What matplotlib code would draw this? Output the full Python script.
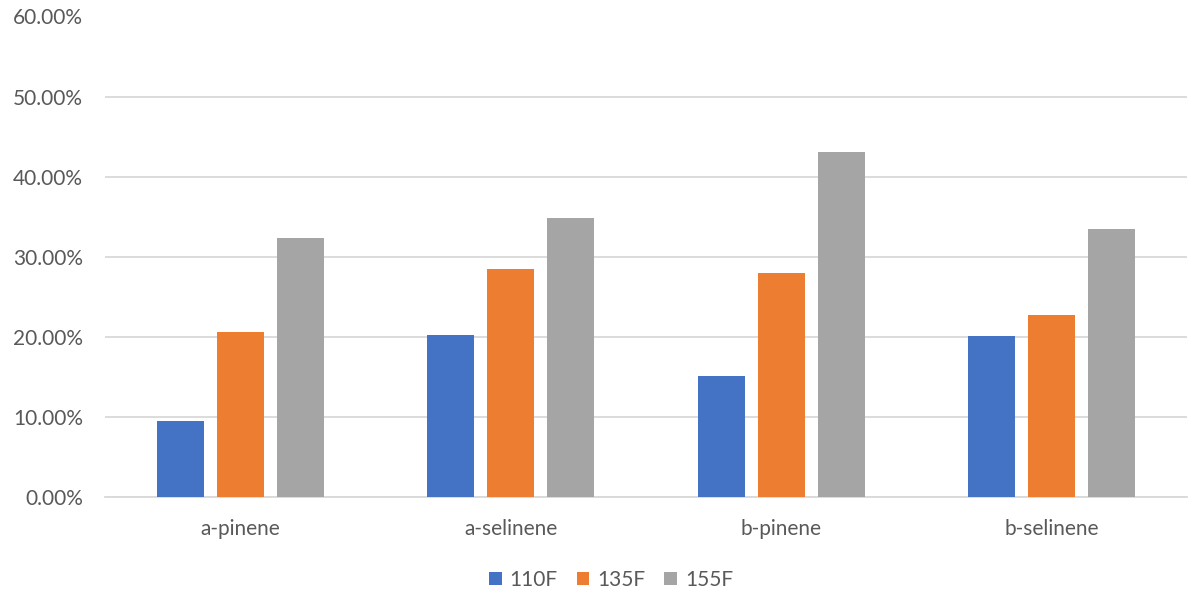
import matplotlib
matplotlib.use("Agg")
import matplotlib.pyplot as plt
import numpy as np
from matplotlib.ticker import FuncFormatter, MultipleLocator

plt.rcParams['font.family'] = ['Lato', 'DejaVu Sans']

categories = ["a-pinene", "a-selinene", "b-pinene", "b-selinene"]
series_names = ["110F", "135F", "155F"]
values_110f = [0.095, 0.202, 0.151, 0.201]
values_135f = [0.206, 0.285, 0.280, 0.227]
values_155f = [0.324, 0.348, 0.431, 0.335]
colors = ["#4472C4", "#ED7D31", "#A5A5A5"]

fig = plt.figure(figsize=(11.89, 5.98), dpi=100)
ax = fig.add_axes([105 / 1189, 101 / 598, 1082 / 1189, 480.5 / 598])

x = np.arange(len(categories))
width = 0.174
step = 0.222
handles = []
for i, (name, vals) in enumerate(zip(series_names, [values_110f, values_135f, values_155f])):
    h = ax.bar(x + (i - 1) * step, vals, width, color=colors[i], label=name, zorder=3)
    handles.append(h)

ax.set_xlim(-0.5, len(categories) - 0.5)
ax.set_ylim(0, 0.60)
ax.yaxis.set_major_locator(MultipleLocator(0.10))
ax.yaxis.set_major_formatter(FuncFormatter(lambda v, p: f"{v * 100:.2f}%"))
ax.set_xticks(x)
ax.set_xticklabels(categories)

ax.grid(axis='y', color='#D9D9D9', linewidth=1.3, zorder=0)
for s in ['top', 'right', 'left']:
    ax.spines[s].set_visible(False)
ax.spines['bottom'].set_color('#D9D9D9')
ax.spines['bottom'].set_linewidth(1.3)
ax.tick_params(axis='both', length=0, colors='#595959', labelsize=15)
ax.tick_params(axis='y', pad=16)
ax.tick_params(axis='x', pad=16)

fig.legend(handles=handles, labels=series_names, loc='center',
           bbox_to_anchor=(611 / 1189, 1 - 580 / 598), ncol=3, frameon=False,
           fontsize=15, labelcolor='#595959', handlelength=0.62, handleheight=0.62,
           handletextpad=0.38, columnspacing=0.9)

fig.savefig("out.png", dpi=100, facecolor='white')
